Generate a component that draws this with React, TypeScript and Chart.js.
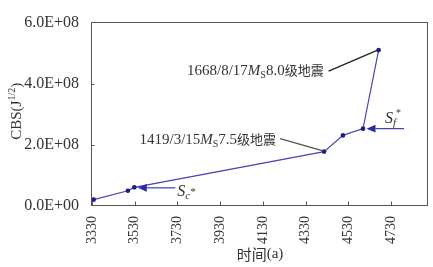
import React, { useEffect, useRef } from 'react';
import { Chart, registerables } from 'chart.js';
Chart.register(...registerables);

// ---- data ----
const years = [3338, 3498, 3528, 4416, 4504, 4598, 4671];
const cbs = [2.1e7, 5.0e7, 6.1e7, 1.78e8, 2.31e8, 2.53e8, 5.1e8];
const xTickValues = [3330, 3530, 3730, 3930, 4130, 4330, 4530, 4730];
const yTickValues = [0, 2e8, 4e8, 6e8];
const xRange = [3330, 4902];
const yRange = [0, 6e8];
const xTitle = '时间(a)';
const yTitleParts = ['CBS(J', '1/2', ')'];
const quake1668 = ['1668/8/17', 'M', 'S', '8.0', '级地震'];
const quake1419 = ['1419/3/15', 'M', 'S', '7.5', '级地震'];
const scLabel = ['S', 'c', '*'];
const sfLabel = ['S', 'f', '*'];

const SERIF = '"Liberation Serif", "Times New Roman", serif';
const CJK = '"Noto Sans CJK SC", sans-serif';
const TEXT = '#333333';

type Seg = { t: string; font: string; dy?: number };

function segWidth(ctx: CanvasRenderingContext2D, segs: Seg[]) {
  let w = 0;
  for (const s of segs) {
    ctx.font = s.font;
    w += ctx.measureText(s.t).width;
  }
  return w;
}
function drawSegs(ctx: CanvasRenderingContext2D, x: number, y: number, segs: Seg[]) {
  let cx = x;
  for (const s of segs) {
    ctx.font = s.font;
    ctx.fillText(s.t, cx, y + (s.dy || 0));
    cx += ctx.measureText(s.t).width;
  }
}
function quakeSegs(p: string[]): Seg[] {
  return [
    { t: p[0], font: `15px ${SERIF}` },
    { t: p[1], font: `italic 15px ${SERIF}` },
    { t: p[2], font: `10px ${SERIF}`, dy: 3 },
    { t: p[3], font: `15px ${SERIF}` },
    { t: p[4], font: `13px ${CJK}` },
  ];
}
function sci(v: number) {
  if (v === 0) return '0.0E+00';
  const e = Math.floor(Math.log10(v) + 1e-9);
  const m = v / Math.pow(10, e);
  return m.toFixed(1) + 'E+' + String(e).padStart(2, '0');
}
function arrow(ctx: CanvasRenderingContext2D, x0: number, y0: number, x1: number, y1: number) {
  ctx.save();
  ctx.strokeStyle = '#2a2aa6';
  ctx.fillStyle = '#2a2aa6';
  ctx.lineWidth = 1.1;
  const ang = Math.atan2(y1 - y0, x1 - x0);
  const L = 9, H = 3.8;
  const bx = x1 - L * Math.cos(ang), by = y1 - L * Math.sin(ang);
  ctx.beginPath();
  ctx.moveTo(x0, y0);
  ctx.lineTo(bx, by);
  ctx.stroke();
  ctx.beginPath();
  ctx.moveTo(x1, y1);
  ctx.lineTo(bx + H * Math.sin(ang), by - H * Math.cos(ang));
  ctx.lineTo(bx - H * Math.sin(ang), by + H * Math.cos(ang));
  ctx.closePath();
  ctx.fill();
  ctx.restore();
}

const framePlugin = {
  id: 'frame',
  beforeDatasetsDraw(chart: any) {
    const { ctx, chartArea: a } = chart;
    const xs = chart.scales.x, ys = chart.scales.y;
    ctx.save();
    ctx.strokeStyle = '#555';
    ctx.lineWidth = 1;
    const l = Math.round(a.left) - 0.5, r = Math.round(a.right) - 0.5;
    const t = Math.round(a.top) - 0.5, b = Math.round(a.bottom) - 0.5;
    ctx.strokeRect(l, t, r - l, b - t);
    ctx.beginPath();
    for (const v of xTickValues) {
      const px = Math.round(xs.getPixelForValue(v)) + 0.5;
      ctx.moveTo(px, b);
      ctx.lineTo(px, b - 4);
    }
    for (const v of yTickValues.slice(1, -1)) {
      const py = Math.round(ys.getPixelForValue(v)) + 0.5;
      ctx.moveTo(l, py);
      ctx.lineTo(l + 3, py);
    }
    ctx.stroke();
    ctx.restore();
  },
  afterDatasetsDraw(chart: any) {
    const { ctx, chartArea: a } = chart;
    const xs = chart.scales.x, ys = chart.scales.y;
    const px = (i: number) => xs.getPixelForValue(years[i]);
    const py = (i: number) => ys.getPixelForValue(cbs[i]);
    ctx.save();
    ctx.fillStyle = TEXT;
    ctx.textBaseline = 'alphabetic';
    ctx.textAlign = 'left';

    const s1 = quakeSegs(quake1668);
    const w1 = segWidth(ctx, s1);
    drawSegs(ctx, px(6) - 55 - w1, py(6) + 25, s1);
    ctx.strokeStyle = '#222';
    ctx.lineWidth = 1.3;
    ctx.beginPath();
    ctx.moveTo(px(6) - 50, py(6) + 21);
    ctx.lineTo(px(6) - 1, py(6));
    ctx.stroke();

    const s2 = quakeSegs(quake1419);
    const w2 = segWidth(ctx, s2);
    ctx.fillStyle = TEXT;
    drawSegs(ctx, px(3) - 48 - w2, py(3) - 8, s2);
    ctx.strokeStyle = '#555';
    ctx.beginPath();
    ctx.moveTo(px(3) - 44, py(3) - 13);
    ctx.lineTo(px(3) - 2, py(3) - 1);
    ctx.stroke();

    arrow(ctx, px(2) + 41, py(2) + 0.5, px(2) + 3.5, py(2) + 0.5);
    ctx.fillStyle = TEXT;
    drawSegs(ctx, px(2) + 43, py(2) + 9, [
      { t: scLabel[0], font: `italic 16px ${SERIF}` },
      { t: scLabel[1], font: `italic 11px ${SERIF}`, dy: 3 },
      { t: scLabel[2], font: `11px ${SERIF}`, dy: -1 },
    ]);

    arrow(ctx, px(5) + 41, py(5), px(5) + 3.5, py(5));
    ctx.fillStyle = TEXT;
    drawSegs(ctx, px(5) + 22, py(5) - 6, [
      { t: sfLabel[0], font: `italic 16px ${SERIF}` },
      { t: sfLabel[1], font: `italic 11px ${SERIF}`, dy: 3 },
      { t: sfLabel[2], font: `10px ${SERIF}`, dy: -7 },
    ]);

    const xt: Seg[] = [
      { t: xTitle.slice(0, 2), font: `15px ${CJK}` },
      { t: xTitle.slice(2), font: `15px ${SERIF}` },
    ];
    const wx = segWidth(ctx, xt);
    ctx.textBaseline = 'middle';
    drawSegs(ctx, (a.left + a.right) / 2 - wx / 2, 254, xt);

    const yt: Seg[] = [
      { t: yTitleParts[0], font: `15px ${SERIF}` },
      { t: yTitleParts[1], font: `10px ${SERIF}`, dy: -6 },
      { t: yTitleParts[2], font: `15px ${SERIF}` },
    ];
    const wy = segWidth(ctx, yt);
    ctx.textBaseline = 'alphabetic';
    ctx.translate(21, (a.top + a.bottom) / 2 - 3);
    ctx.rotate(-Math.PI / 2);
    drawSegs(ctx, -wy / 2, 0, yt);
    ctx.restore();
  },
};

export default function App() {
  const ref = useRef<HTMLCanvasElement>(null);
  useEffect(() => {
    if (!ref.current) return;
    const chart = new Chart(ref.current, {
      type: 'line',
      data: {
        datasets: [
          {
            data: years.map((x, i) => ({ x, y: cbs[i] })),
            borderColor: '#4646b4',
            borderWidth: 1.2,
            pointRadius: 2.3,
            pointBackgroundColor: '#1b1b8c',
            pointBorderWidth: 0,
            tension: 0,
            fill: false,
          },
        ],
      },
      options: {
        animation: false,
        responsive: true,
        maintainAspectRatio: false,
        layout: { padding: { top: 12, right: 5, left: 0, bottom: 0 } },
        plugins: { legend: { display: false }, tooltip: { enabled: false } },
        scales: {
          x: {
            type: 'linear',
            min: xRange[0],
            max: xRange[1],
            grid: { display: false, drawTicks: false },
            border: { display: false },
            afterBuildTicks: (s: any) => {
              s.ticks = xTickValues.map((v) => ({ value: v }));
            },
            afterFit: (s: any) => {
              s.height = 61;
            },
            ticks: {
              autoSkip: false,
              minRotation: 90,
              maxRotation: 90,
              padding: 10,
              color: TEXT,
              font: { family: SERIF, size: 14 },
              callback: (v: any) => String(v),
            },
          },
          y: {
            min: yRange[0],
            max: yRange[1],
            grid: { display: false, drawTicks: false },
            border: { display: false },
            afterBuildTicks: (s: any) => {
              s.ticks = yTickValues.map((v) => ({ value: v }));
            },
            afterFit: (s: any) => {
              s.width = 92;
            },
            ticks: {
              padding: 13,
              color: TEXT,
              font: { family: SERIF, size: 16 },
              callback: (v: any) => sci(Number(v)),
            },
          },
        },
      },
      plugins: [framePlugin],
    });
    return () => chart.destroy();
  }, []);
  return (
    <div style={{ position: 'fixed', left: 0, top: 0, width: 433, height: 267, background: '#fff' }}>
      <canvas ref={ref} />
    </div>
  );
}
